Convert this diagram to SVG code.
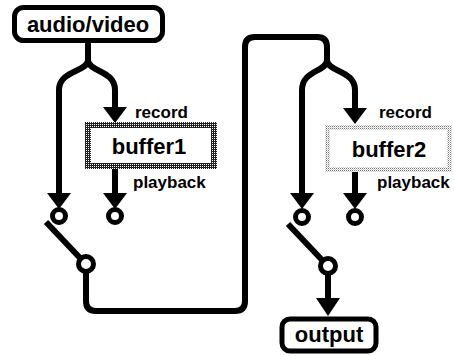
<svg xmlns="http://www.w3.org/2000/svg" width="454" height="356" viewBox="0 0 454 356">
<defs>
<pattern id="dark" width="2" height="2" patternUnits="userSpaceOnUse"><rect width="2" height="2" fill="#222"/><rect width="1" height="1" fill="#fff"/></pattern>
<pattern id="light" width="2" height="2" patternUnits="userSpaceOnUse"><rect width="2" height="2" fill="#fff"/><rect width="1" height="1" fill="#777"/><rect x="1" y="1" width="1" height="1" fill="#ccc"/></pattern>
<marker id="ah" viewBox="0 0 24 16" refX="0" refY="8" markerUnits="userSpaceOnUse" markerWidth="24" markerHeight="16" orient="auto"><path d="M0,0 L24,8 L0,16 Z" fill="#000"/></marker>
</defs>
<style>
.wire{fill:none;stroke:#000;stroke-width:6;stroke-linejoin:round}
.ah{fill:#000}
.node{fill:#fff;stroke:#000;stroke-width:5}
.t{font-family:"Liberation Sans",Arial,sans-serif;font-weight:bold;fill:#000}
.big{font-size:22px;text-anchor:middle}
.small{font-size:17px}
.pin{fill:#fff;stroke:#000;stroke-width:5}
</style>
<rect width="454" height="356" fill="#fff"/>
<g id="connectors">
<path class="wire" d="M88,43 V60 C88,72 59,70 59,90 V194"/>
<path class="wire" d="M88,60 C88,72 115,70 115,90 V108"/>
<path class="wire" d="M115,168 V194"/>
<path class="wire" d="M86,271 V301 Q86,311 96,311 H235 Q245,311 245,301 V47 Q245,37 255,37 H317 Q327,37 327,47 V60 C327,72 302,70 302,90 V194"/>
<path class="wire" d="M327,60 C327,72 355,70 355,90 V108"/>
<path class="wire" d="M355,172 V194"/>
<path class="wire" d="M328,273 V299"/>
<path class="wire" d="M46,222 L81,259"/>
<path class="wire" d="M288,224 L323,261"/>
<path class="ah" d="M103,107 H127 L115,123 Z"/>
<path class="ah" d="M343,108 H367 L355,124 Z"/>
<path class="ah" d="M47,193 H71 L59,209 Z"/>
<path class="ah" d="M103,193 H127 L115,209 Z"/>
<path class="ah" d="M290,193 H314 L302,209 Z"/>
<path class="ah" d="M343,193 H367 L355,209 Z"/>
<path class="ah" d="M316,298 H340 L328,316 Z"/>
</g>
<g id="switch1">
<circle class="pin" cx="59" cy="216" r="6.5"/>
<circle class="pin" cx="115" cy="216" r="6.5"/>
<circle class="pin" cx="86" cy="264" r="7.5"/>
</g>
<g id="switch2">
<circle class="pin" cx="302" cy="217" r="6.5"/>
<circle class="pin" cx="355" cy="217" r="6.5"/>
<circle class="pin" cx="328" cy="266" r="7.5"/>
</g>
<g id="audio-video">
<rect class="node" x="14.5" y="7.5" width="148" height="33" rx="9"/>
<text class="t big" x="88" y="32">audio/video</text>
</g>
<g id="buffer1">
<rect x="88" y="125" width="126" height="41" fill="#fff" stroke="url(#dark)" stroke-width="6"/>
<text class="t big" x="149" y="154">buffer1</text>
<text class="t small" x="135" y="118">record</text>
<text class="t small" x="133" y="188">playback</text>
</g>
<g id="buffer2">
<rect x="327.5" y="127.5" width="122" height="42" fill="#fff" stroke="url(#light)" stroke-width="5"/>
<text class="t big" x="389" y="157">buffer2</text>
<text class="t small" x="379" y="118">record</text>
<text class="t small" x="377" y="188">playback</text>
</g>
<g id="output">
<rect class="node" x="282" y="319" width="94" height="32" rx="8"/>
<text class="t big" x="329" y="342">output</text>
</g>
</svg>
